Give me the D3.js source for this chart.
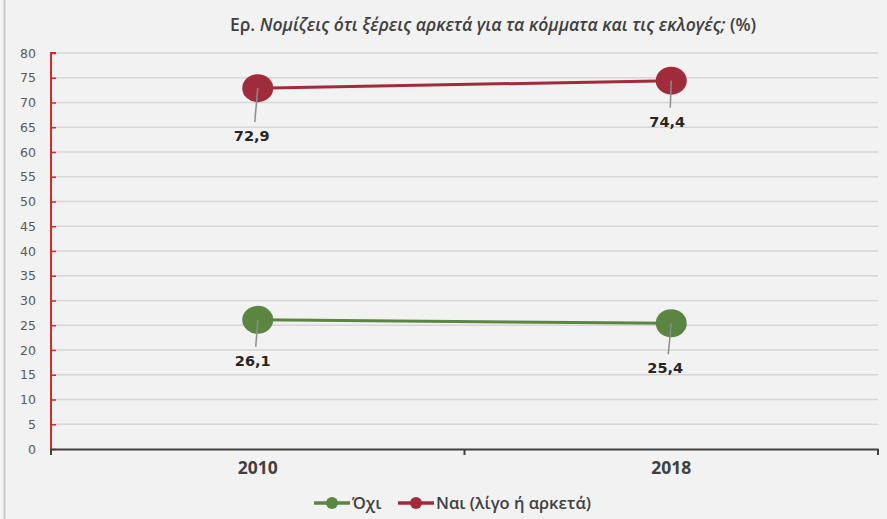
<!DOCTYPE html>
<html>
<head>
<meta charset="utf-8">
<script src="https://cdn.jsdelivr.net/npm/d3@7"></script>
<style>
  html, body { margin: 0; padding: 0; background: #f2f2f2; }
  svg { display: block; }
</style>
</head>
<body>
<svg width="887" height="519"></svg>
<script>
// δεδομένα
const years = ['2010', '2018'];
const oxi = [26.1, 25.4];
const nai = [72.9, 74.4];
const yTicks = d3.range(0, 81, 5);
const seriesNames = ['Όχι', 'Ναι (λίγο ή αρκετά)'];

const svg = d3.select('svg');
const margin = { top: 53, right: 9, bottom: 70, left: 51 };
const width = +svg.attr('width') - margin.left - margin.right;
const height = +svg.attr('height') - margin.top - margin.bottom;

svg.append('rect').attr('width', 887).attr('height', 519).attr('fill', '#f2f2f2');
svg.append('line').attr('x1', 4.5).attr('x2', 4.5).attr('y1', 0).attr('y2', 519)
    .attr('stroke', '#c8c8c8').attr('stroke-width', 2);

const x = d3.scaleBand().domain(years).range([0, width]);
const y = d3.scaleLinear().domain([0, 80]).range([height, 0]);

const g = svg.append('g').attr('transform', `translate(${margin.left},${margin.top})`);

// τίτλος
const title = svg.append('text')
    .attr('x', 493).attr('y', 31)
    .attr('text-anchor', 'middle')
    .attr('font-family', 'Open Sans, sans-serif')
    .attr('font-weight', 600)
    .attr('font-size', 17.5)
    .attr('fill', '#404040');
title.append('tspan').text('Ερ. ');
title.append('tspan').attr('font-style', 'italic').text('Νομίζεις ότι ξέρεις αρκετά για τα κόμματα και τις εκλογές;');
title.append('tspan').text(' (%)');

// γραμμές πλέγματος
g.append('g')
    .selectAll('line')
    .data(yTicks.filter(d => d > 0))
    .enter()
    .append('line')
    .attr('x1', 0).attr('x2', width)
    .attr('y1', d => y(d)).attr('y2', d => y(d))
    .attr('stroke', '#d6d6d6').attr('stroke-width', 1.3);

// άξονας y
const yAxis = g.append('g')
    .call(d3.axisLeft(y).tickValues(yTicks).tickSize(-5).tickPadding(15));
yAxis.select('.domain').attr('stroke', '#d42a2a').attr('stroke-width', 2).attr('d', `M0,${height}V0h5`);
yAxis.selectAll('.tick line').attr('stroke', '#d42a2a').attr('stroke-width', 1.5);
yAxis.selectAll('.tick text')
    .attr('fill', '#595959')
    .attr('font-family', 'DejaVu Sans, sans-serif')
    .attr('font-size', 12.5);

// άξονας x
const xAxis = g.append('g')
    .attr('transform', `translate(0,${height})`)
    .call(d3.axisBottom(x).tickSize(0).tickPadding(13));
xAxis.select('.domain').attr('stroke', '#404040').attr('stroke-width', 2);
xAxis.selectAll('.tick text')
    .attr('fill', '#404040')
    .attr('font-family', 'Open Sans, sans-serif')
    .attr('font-weight', 700)
    .attr('font-size', 17.5);
g.append('g')
    .selectAll('line')
    .data([0, width / 2, width])
    .enter()
    .append('line')
    .attr('x1', d => d).attr('x2', d => d)
    .attr('y1', height).attr('y2', height + 6)
    .attr('stroke', '#404040').attr('stroke-width', 2);

// σειρές
const series = [
    { name: seriesNames[0], values: oxi, color: '#5a8642', dx: [-2, -3], dy: [33, 37] },
    { name: seriesNames[1], values: nai, color: '#a02b3b', dx: [-3, -1], dy: [40, 33] }
];
const cx = (i) => x(years[i]) + x.bandwidth() / 2;
const line = d3.line().x((d, i) => cx(i)).y(d => y(d));

series.forEach(s => {
    g.append('path')
        .datum(s.values)
        .attr('fill', 'none')
        .attr('stroke', s.color)
        .attr('stroke-width', 3)
        .attr('d', line);
    g.selectAll(null)
        .data(s.values)
        .enter()
        .append('ellipse')
        .attr('cx', (d, i) => cx(i))
        .attr('cy', d => y(d))
        .attr('rx', 15.5).attr('ry', 14)
        .attr('fill', s.color);
    // ετικέτες
    g.selectAll(null)
        .data(s.values)
        .enter()
        .append('line')
        .attr('x1', (d, i) => cx(i)).attr('y1', d => y(d))
        .attr('x2', (d, i) => cx(i) + s.dx[i]).attr('y2', (d, i) => y(d) + s.dy[i] - 6)
        .attr('stroke', '#8c8c8c').attr('stroke-width', 1.5);
    g.selectAll(null)
        .data(s.values)
        .enter()
        .append('text')
        .attr('x', (d, i) => cx(i) + s.dx[i] - 3)
        .attr('y', (d, i) => y(d) + s.dy[i] + 13)
        .attr('text-anchor', 'middle')
        .attr('font-family', 'DejaVu Sans, sans-serif')
        .attr('font-weight', 700)
        .attr('font-size', 14.5)
        .attr('fill', '#262626')
        .text(d => d3.format('.1f')(d).replace('.', ','));
});

// υπόμνημα
const legend = svg.append('g').attr('transform', 'translate(0,503)');
const legendX = [314, 398];
series.forEach((s, i) => {
    const lg = legend.append('g').attr('transform', `translate(${legendX[i]},0)`);
    lg.append('line').attr('x1', 0).attr('x2', 36).attr('y1', 0).attr('y2', 0)
        .attr('stroke', s.color).attr('stroke-width', 3.5);
    lg.append('circle').attr('cx', 18).attr('cy', 0).attr('r', 6).attr('fill', s.color);
    lg.append('text')
        .attr('x', 38).attr('y', 6)
        .attr('font-family', 'Open Sans, sans-serif')
        .attr('font-weight', 600)
        .attr('font-size', 16.5)
        .attr('fill', '#404040')
        .text(s.name);
});
</script>
</body>
</html>
